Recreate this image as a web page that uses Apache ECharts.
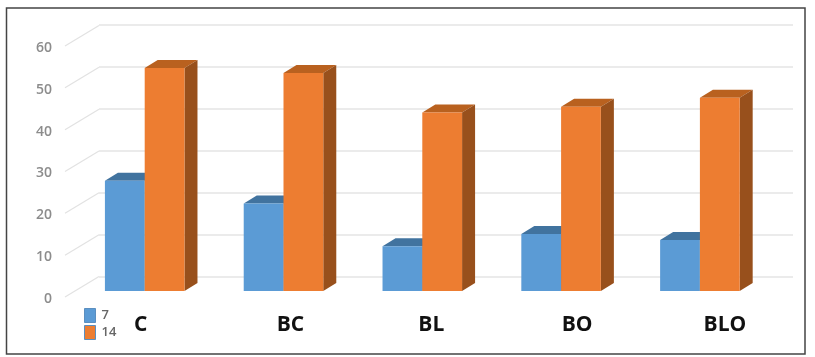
<!DOCTYPE html>
<html>
<head>
<meta charset="utf-8">
<style>
    html, body { margin: 0; padding: 0; background: #fff; }
    #chart { width: 815px; height: 357px; filter: blur(0.4px); }
</style>
<script src="https://cdn.jsdelivr.net/npm/echarts@6/dist/echarts.min.js"></script>
</head>
<body>
<div id="chart"></div>
<script>
const categories = ['C', 'BC', 'BL', 'BO', 'BLO']
const values7 = [26.3, 20.9, 10.7, 13.6, 12.2]
const values14 = [53.2, 52, 42.6, 44, 46.1]
const tickValues = [0, 10, 20, 30, 40, 50, 60]

// labels in the picture are not centred under their bars
const labelNudge = [-4, 7, 9, 16, 25]

// 3d look of the bars and of the floor
const barDepth = [13, -8]
const wallDepth = [34, -20.5]

function bar3d(colors, shift) {
    return function (params, api) {
        const bottom = api.coord([api.value(0), 0])
        const top = api.coord([api.value(0), api.value(1)])
        const w = api.size([1, 0])[0] * 0.2866
        const x = bottom[0] + shift * w
        const [dx, dy] = barDepth
        return {
            type: 'group',
            children: [
                {
                    type: 'polygon',
                    shape: { points: [[x, top[1]], [x + dx, top[1] + dy], [x + w + dx, top[1] + dy], [x + w, top[1]]] },
                    style: { fill: colors.top }
                },
                {
                    type: 'polygon',
                    shape: { points: [[x + w, top[1]], [x + w + dx, top[1] + dy], [x + w + dx, bottom[1] + dy], [x + w, bottom[1]]] },
                    style: { fill: colors.side }
                },
                {
                    type: 'rect',
                    shape: { x: x, y: top[1], width: w, height: bottom[1] - top[1] },
                    style: { fill: colors.front }
                }
            ]
        }
    }
}

function floorLine(params, api) {
    const start = api.coord([0, api.value(0)])
    return {
        type: 'line',
        shape: { x1: start[0], y1: start[1], x2: start[0] + wallDepth[0], y2: start[1] + wallDepth[1] },
        style: { stroke: '#e2e2e2', lineWidth: 1.2 }
    }
}

const richLabels = {}
categories.forEach((c, i) => {
    const n = labelNudge[i]
    richLabels['c' + i] = {
        fontFamily: 'Open Sans',
        fontWeight: 'bold',
        fontSize: 21,
        color: '#111',
        padding: n > 0 ? [0, 0, 0, 2 * n] : [0, -2 * n, 0, 0]
    }
})

const chart = echarts.init(document.getElementById('chart'))
const option = {
    animation: false,
    backgroundColor: '#fff',
    graphic: [{
        type: 'rect',
        shape: { x: 6.5, y: 8, width: 798.5, height: 346 },
        style: { fill: 'none', stroke: '#444', lineWidth: 1.5 },
        silent: true
    }],
    legend: {
        left: 84,
        top: 308,
        padding: 0,
        orient: 'vertical',
        icon: 'rect',
        itemWidth: 11,
        itemHeight: 14,
        itemGap: 2,
        itemStyle: { borderColor: '#5b8fc0', borderWidth: 1 },
        data: ['7', '14'],
        textStyle: { color: '#666', fontFamily: 'Open Sans', fontSize: 13, fontWeight: 600, padding: [0, 0, 0, 1] }
    },
    grid: [
        // bars
        { left: 75.3, top: 39.6, width: 694, height: 251.4 },
        // y labels at the front edge of the floor
        { left: 65, top: 46, width: 34, height: 251 },
        // back wall
        { left: 99, top: 25, width: 694, height: 251.7 }
    ],
    xAxis: [
        {
            gridIndex: 0,
            type: 'category',
            data: categories,
            axisLine: { show: false },
            axisTick: { show: false },
            axisLabel: {
                margin: 24,
                formatter: (v, i) => `{c${i}|${v}}`,
                rich: richLabels
            }
        },
        { gridIndex: 1, type: 'value', min: 0, max: 1, show: false },
        { gridIndex: 2, type: 'value', min: 0, max: 1, show: false }
    ],
    yAxis: [
        { gridIndex: 0, type: 'value', min: 0, max: 60, interval: 10, show: false },
        {
            gridIndex: 1,
            type: 'value',
            min: 0,
            max: 60,
            interval: 10,
            axisLine: { show: false },
            axisTick: { show: false },
            splitLine: { show: false },
            axisLabel: {
                margin: 13,
                formatter: v => `{t|${v}}`,
                rich: {
                    t: { padding: [4, 0, 0, 0], color: '#8c8c8c', fontFamily: 'Open Sans', fontWeight: 600, fontSize: 14 }
                }
            }
        },
        {
            gridIndex: 2,
            type: 'value',
            min: 0,
            max: 60,
            interval: 10,
            axisLine: { show: false },
            axisTick: { show: false },
            axisLabel: { show: false },
            splitLine: { lineStyle: { color: '#e4e4e4', width: 1.5 } }
        }
    ],
    series: [
        {
            name: 'floor',
            type: 'custom',
            xAxisIndex: 1,
            yAxisIndex: 1,
            data: tickValues.map(v => [v]),
            encode: { y: 0 },
            renderItem: floorLine,
            silent: true
        },
        {
            name: '7',
            type: 'custom',
            xAxisIndex: 0,
            yAxisIndex: 0,
            data: values7.map((v, i) => [i, v]),
            encode: { x: 0, y: 1 },
            itemStyle: { color: '#5b9bd5' },
            renderItem: bar3d({ front: '#5b9bd5', top: '#41739f', side: '#3f6f9a' }, -1)
        },
        {
            name: '14',
            type: 'custom',
            xAxisIndex: 0,
            yAxisIndex: 0,
            data: values14.map((v, i) => [i, v]),
            encode: { x: 0, y: 1 },
            itemStyle: { color: '#ed7d31' },
            renderItem: bar3d({ front: '#ed7d31', top: '#b9611f', side: '#98501c' }, 0)
        }
    ]
}
chart.setOption(option)
</script>
</body>
</html>
